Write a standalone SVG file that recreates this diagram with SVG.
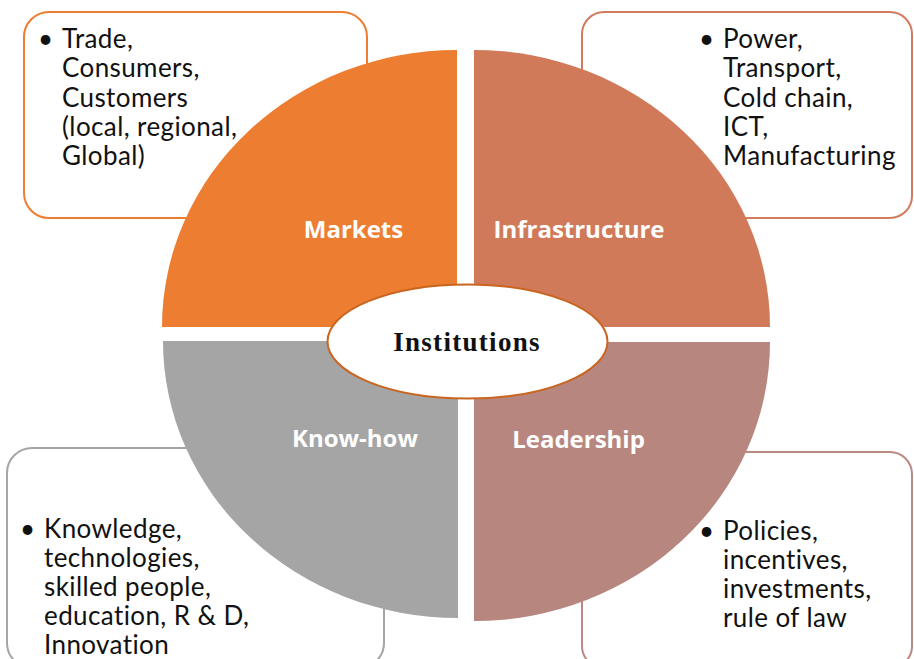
<svg xmlns="http://www.w3.org/2000/svg" width="914" height="659" viewBox="0 0 914 659">
<style>
.box{fill:#fff;stroke-width:2}
.bt{font-family:Lato,"Open Sans",sans-serif;font-size:26px;letter-spacing:0.4px;fill:#111}
.lbl{font-family:"Open Sans","Noto Sans",sans-serif;font-weight:bold;font-size:24px;fill:#fff;text-anchor:middle}
</style>
<rect width="914" height="659" fill="#fff"/>
<g id="box-markets"><rect class="box" x="24" y="12" width="343" height="206" rx="25" stroke="#ED7D31"/>
<text class="bt"><tspan x="38" y="48">•</tspan><tspan x="62" y="48">Trade,</tspan><tspan x="62" y="77.3">Consumers,</tspan><tspan x="62" y="106.6">Customers</tspan><tspan x="62" y="135.9">(local, regional,</tspan><tspan x="62" y="165.2">Global)</tspan></text></g>
<g id="box-infrastructure"><rect class="box" x="582" y="12" width="330" height="206" rx="22" stroke="#D27B5D"/>
<text class="bt"><tspan x="699" y="48">•</tspan><tspan x="723" y="48">Power,</tspan><tspan x="723" y="77.3">Transport,</tspan><tspan x="723" y="106.6">Cold chain,</tspan><tspan x="723" y="135.9">ICT,</tspan><tspan x="723" y="165.2">Manufacturing</tspan></text></g>
<g id="box-knowhow"><rect class="box" x="7" y="448" width="377" height="220" rx="25" stroke="#A5A5A5"/></g>
<g id="box-leadership"><rect class="box" x="582" y="452" width="330" height="216" rx="22" stroke="#BA8A82"/></g>
<g id="q-markets"><path d="M457 327 L162 327 A295 277 0 0 1 457 50 Z" fill="#ED7D31"/><text class="lbl" x="353.5" y="238">Markets</text></g>
<g id="q-infrastructure"><path d="M474 327 L474 50 A296 277 0 0 1 770 327 Z" fill="#D07A5A"/><text class="lbl" x="579" y="238">Infrastructure</text></g>
<g id="q-knowhow"><path d="M458 341 L458 618 A295 277 0 0 1 163 341 Z" fill="#A5A5A5"/><text class="lbl" x="355" y="447">Know-how</text></g>
<g id="q-leadership"><path d="M474 342 L770 342 A296 279 0 0 1 474 621 Z" fill="#B7877F"/><text class="lbl" x="578.5" y="448">Leadership</text></g>
<g id="text-knowhow"><text class="bt"><tspan x="20" y="538">•</tspan><tspan x="44" y="538">Knowledge,</tspan><tspan x="44" y="567">technologies,</tspan><tspan x="44" y="596">skilled people,</tspan><tspan x="44" y="625">education, R &amp; D,</tspan><tspan x="44" y="654">Innovation</tspan></text></g>
<g id="text-leadership"><text class="bt"><tspan x="699" y="540">•</tspan><tspan x="723" y="540">Policies,</tspan><tspan x="723" y="569">incentives,</tspan><tspan x="723" y="598">investments,</tspan><tspan x="723" y="627">rule of law</tspan></text></g>
<g id="institutions"><ellipse cx="467.5" cy="341.5" rx="140" ry="57" fill="#fff" stroke="#C9651F" stroke-width="2"/><text x="467" y="351" text-anchor="middle" font-family="'Liberation Serif',serif" font-weight="bold" font-size="27" letter-spacing="1.3" fill="#111">Institutions</text></g>
<g id="connectors"/>
</svg>
